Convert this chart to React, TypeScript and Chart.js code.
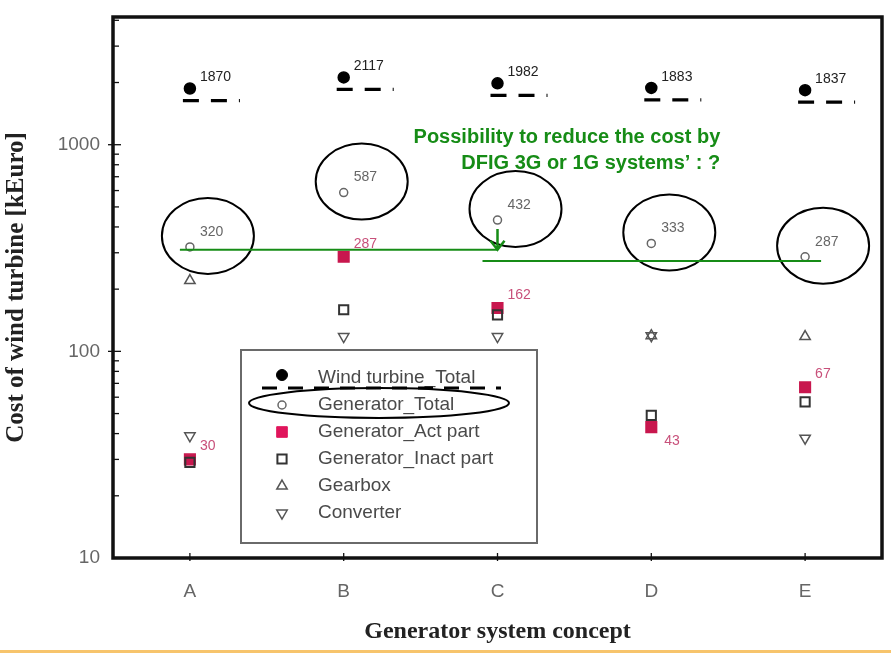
import React, { useEffect, useRef } from "react";
import { Chart, registerables } from "chart.js";

Chart.register(...registerables);

// ---- data ----
const categories = ["A", "B", "C", "D", "E"];
const seriesLabels = [
  "Wind turbine_Total",
  "Generator_Total",
  "Generator_Act part",
  "Generator_Inact part",
  "Gearbox",
  "Converter",
];
const windTurbineTotal = [1870, 2117, 1982, 1883, 1837];
const generatorTotal = [320, 587, 432, 333, 287];
const generatorActPart = [30, 287, 162, 43, 67];
const generatorInactPart = [29, 159, 150, 49, 57];
const gearbox = [220, null, null, 119, 118];
const converter = [39, 118, 118, 119, 38];
const yTickValues = [10, 100, 1000];
const yMin = 10;
const yMax = 4150;
// annotation: reduction reference levels (kEuro)
const refLevelFirst = 310;
const refLevelSecond = 274;
const arrowStartValue = 391;
const noteLines = ["Possibility to reduce the cost by", "DFIG 3G or 1G systems\u2019 : ?"];

const GREEN = "#168c16";
const ACT_RED = "#c8174e";

function drawMarker(ctx, style, x, y, r, fill, stroke, lw, rot = 0) {
  ctx.save();
  ctx.translate(x, y);
  ctx.rotate((rot * Math.PI) / 180);
  ctx.beginPath();
  if (style === "circle") {
    ctx.arc(0, 0, r, 0, Math.PI * 2);
  } else if (style === "rect") {
    const s = Math.SQRT1_2 * r;
    ctx.rect(-s, -s, 2 * s, 2 * s);
  } else if (style === "triangle") {
    ctx.moveTo(0, -r);
    ctx.lineTo(r * 0.866, r * 0.5);
    ctx.lineTo(-r * 0.866, r * 0.5);
    ctx.closePath();
  }
  if (fill) {
    ctx.fillStyle = fill;
    ctx.fill();
  }
  ctx.lineWidth = lw;
  ctx.strokeStyle = stroke;
  ctx.stroke();
  ctx.restore();
}

const overlayPlugin = {
  id: "overlay",
  beforeDraw(chart) {
    const { ctx, width, height } = chart;
    ctx.save();
    ctx.fillStyle = "#ffffff";
    ctx.fillRect(0, 0, width, height);
    ctx.fillStyle = "#f7c46c";
    ctx.fillRect(0, height - 3, width, 3);
    ctx.restore();
  },
  afterDatasetsDraw(chart) {
    const { ctx, chartArea: ca } = chart;
    const x = chart.scales.x;
    const y = chart.scales.y;
    ctx.save();

    // frame
    ctx.strokeStyle = "#111";
    ctx.lineWidth = 3.5;
    ctx.strokeRect(ca.left, ca.top, ca.right - ca.left, ca.bottom - ca.top);

    // y ticks (major + minor, log)
    ctx.lineWidth = 1.3;
    for (const dec of [10, 100, 1000]) {
      for (let m = 1; m <= 9; m++) {
        const v = dec * m;
        if (v > yMax || v <= yMin) continue;
        const py = y.getPixelForValue(v);
        ctx.beginPath();
        if (m === 1) {
          ctx.moveTo(ca.left - 5, py);
          ctx.lineTo(ca.left + 8, py);
        } else {
          ctx.moveTo(ca.left, py);
          ctx.lineTo(ca.left + 6, py);
        }
        ctx.stroke();
      }
    }
    // x ticks
    categories.forEach((_, i) => {
      const px = x.getPixelForValue(i);
      ctx.beginPath();
      ctx.moveTo(px, ca.bottom + 3);
      ctx.lineTo(px, ca.bottom - 5);
      ctx.stroke();
    });

    const wtMeta = chart.getDatasetMeta(0);
    const gtMeta = chart.getDatasetMeta(1);
    const actMeta = chart.getDatasetMeta(2);

    // dashed markers under wind turbine totals
    ctx.strokeStyle = "#000";
    ctx.lineWidth = 3.3;
    ctx.setLineDash([16, 12]);
    wtMeta.data.forEach((pt) => {
      ctx.beginPath();
      ctx.moveTo(pt.x - 7, pt.y + 12);
      ctx.lineTo(pt.x + 50, pt.y + 12);
      ctx.stroke();
    });
    ctx.setLineDash([]);

    // ellipses around generator totals
    ctx.lineWidth = 2;
    gtMeta.data.forEach((pt) => {
      ctx.beginPath();
      ctx.ellipse(pt.x + 18, pt.y - 11, 46, 38, 0, 0, Math.PI * 2);
      ctx.stroke();
    });

    // value labels
    ctx.font = "14px 'Liberation Sans', Arial, sans-serif";
    ctx.textAlign = "left";
    ctx.textBaseline = "middle";
    ctx.fillStyle = "#222";
    wtMeta.data.forEach((pt, i) => {
      ctx.fillText(String(windTurbineTotal[i]), pt.x + 10, pt.y - 11);
    });
    ctx.fillStyle = "#666";
    gtMeta.data.forEach((pt, i) => {
      ctx.fillText(String(generatorTotal[i]), pt.x + 10, pt.y - 15);
    });
    ctx.fillStyle = "#c8507a";
    actMeta.data.forEach((pt, i) => {
      const below = generatorActPart[i] < generatorInactPart[i];
      if (below) ctx.fillText(String(generatorActPart[i]), pt.x + 13, pt.y + 14);
      else ctx.fillText(String(generatorActPart[i]), pt.x + 10, pt.y - 13);
    });

    // green annotation
    ctx.strokeStyle = GREEN;
    ctx.fillStyle = GREEN;
    ctx.lineWidth = 2;
    const y1 = y.getPixelForValue(refLevelFirst);
    const y2 = y.getPixelForValue(refLevelSecond);
    const xA = x.getPixelForValue(0);
    const xC = x.getPixelForValue(2);
    const xE = x.getPixelForValue(4);
    ctx.beginPath();
    ctx.moveTo(xA - 10, y1);
    ctx.lineTo(xC, y1);
    ctx.stroke();
    ctx.beginPath();
    ctx.moveTo(xC - 15, y2);
    ctx.lineTo(xE + 16, y2);
    ctx.stroke();
    const ya = y.getPixelForValue(arrowStartValue);
    ctx.lineWidth = 2.5;
    ctx.beginPath();
    ctx.moveTo(xC, ya);
    ctx.lineTo(xC, y1);
    ctx.moveTo(xC - 7, y1 - 9);
    ctx.lineTo(xC, y1);
    ctx.lineTo(xC + 7, y1 - 9);
    ctx.stroke();

    ctx.font = "bold 20px 'Liberation Sans', Arial, sans-serif";
    ctx.textAlign = "right";
    ctx.textBaseline = "middle";
    const noteRight = x.getPixelForValue(3) + 69;
    ctx.fillText(noteLines[0], noteRight, ca.top + 120);
    ctx.fillText(noteLines[1], noteRight, ca.top + 146);

    // legend
    const lx = ca.left + 128;
    const ly = ca.top + 333;
    const lw = 296;
    const lh = 193;
    ctx.fillStyle = "#fff";
    ctx.fillRect(lx, ly, lw, lh);
    ctx.strokeStyle = "#6a6a6a";
    ctx.lineWidth = 2;
    ctx.strokeRect(lx, ly, lw, lh);
    const mx = lx + 41;
    const tx = lx + 77;
    const rowY = (k) => ly + 28 + k * 27;
    const markerDefs = [
      ["circle", 5.5, "#000", "#000", 1, 0],
      ["circle", 4, null, "#666", 1.5, 0],
      ["rect", 7.5, "#e0155c", "#e0155c", 1, 0],
      ["rect", 6.5, null, "#333", 2, 0],
      ["triangle", 6, null, "#555", 1.5, 0],
      ["triangle", 6, null, "#555", 1.5, 180],
    ];
    ctx.font = "19px 'Liberation Sans', Arial, sans-serif";
    ctx.textAlign = "left";
    ctx.textBaseline = "middle";
    seriesLabels.forEach((lab, k) => {
      const d = markerDefs[k];
      drawMarker(ctx, d[0], mx, rowY(k) - (k === 0 ? 3 : 0), d[1], d[2], d[3], d[4], d[5]);
      ctx.fillStyle = "#4a4a4a";
      ctx.fillText(lab, tx, rowY(k));
    });
    // legend decorations
    ctx.strokeStyle = "#000";
    ctx.lineWidth = 3;
    ctx.setLineDash([15, 11]);
    ctx.beginPath();
    ctx.moveTo(lx + 21, rowY(0) + 10);
    ctx.lineTo(lx + 260, rowY(0) + 10);
    ctx.stroke();
    ctx.setLineDash([]);
    ctx.lineWidth = 2;
    ctx.beginPath();
    ctx.ellipse(lx + 138, rowY(1) - 2, 130, 15, 0, 0, Math.PI * 2);
    ctx.stroke();

    ctx.restore();
  },
};

export default function App() {
  const canvasRef = useRef(null);

  useEffect(() => {
    document.body.style.margin = "0";
    const canvas = canvasRef.current;
    if (!canvas) return;
    const pt = (over) =>
      Object.assign(
        { showLine: false, pointBorderWidth: 1.5, pointHoverRadius: 0 },
        over
      );
    const chart = new Chart(canvas, {
      type: "line",
      data: {
        labels: categories,
        datasets: [
          pt({
            label: seriesLabels[0],
            data: windTurbineTotal,
            pointStyle: "circle",
            pointRadius: 5.5,
            pointBackgroundColor: "#000",
            pointBorderColor: "#000",
            borderColor: "#000",
            order: 1,
          }),
          pt({
            label: seriesLabels[1],
            data: generatorTotal,
            pointStyle: "circle",
            pointRadius: 4,
            pointBackgroundColor: "rgba(255,255,255,0)",
            pointBorderColor: "#666",
            borderColor: "#666",
            order: 1,
          }),
          pt({
            label: seriesLabels[2],
            data: generatorActPart,
            pointStyle: "rect",
            pointRadius: 7.5,
            pointBackgroundColor: ACT_RED,
            pointBorderColor: ACT_RED,
            borderColor: ACT_RED,
            order: 2,
          }),
          pt({
            label: seriesLabels[3],
            data: generatorInactPart,
            pointStyle: "rect",
            pointRadius: 6.5,
            pointBorderWidth: 2,
            pointBackgroundColor: "rgba(255,255,255,0)",
            pointBorderColor: "#333",
            borderColor: "#333",
            order: 0,
          }),
          pt({
            label: seriesLabels[4],
            data: gearbox,
            pointStyle: "triangle",
            pointRadius: 6,
            pointBackgroundColor: "rgba(255,255,255,0)",
            pointBorderColor: "#555",
            borderColor: "#555",
            order: 1,
          }),
          pt({
            label: seriesLabels[5],
            data: converter,
            pointStyle: "triangle",
            pointRotation: 180,
            pointRadius: 6,
            pointBackgroundColor: "rgba(255,255,255,0)",
            pointBorderColor: "#555",
            borderColor: "#555",
            order: 1,
          }),
        ],
      },
      options: {
        animation: false,
        responsive: false,
        devicePixelRatio: 1,
        events: [],
        layout: { padding: { top: 17, right: 6, left: 0, bottom: 0 } },
        plugins: {
          legend: { display: false },
          tooltip: { enabled: false },
        },
        scales: {
          x: {
            type: "category",
            offset: true,
            grid: { display: false, drawTicks: false },
            border: { display: false },
            ticks: {
              color: "#666",
              padding: 22,
              font: { family: "'Liberation Sans', Arial, sans-serif", size: 19 },
            },
            title: {
              display: true,
              text: "Generator system concept",
              color: "#222",
              padding: { top: 0, bottom: 7 },
              font: { family: "'Liberation Serif', 'Times New Roman', serif", size: 24, weight: "bold" },
            },
            afterFit: (s) => {
              s.height = 95;
              s.paddingLeft = 0;
              s.paddingRight = 0;
            },
          },
          y: {
            type: "logarithmic",
            min: yMin,
            max: yMax,
            grid: { display: false, drawTicks: false },
            border: { display: false },
            afterBuildTicks: (s) => {
              s.ticks = yTickValues.map((v) => ({ value: v }));
            },
            ticks: {
              color: "#666",
              padding: 13,
              font: { family: "'Liberation Sans', Arial, sans-serif", size: 19 },
              callback: (v) => String(v),
            },
            title: {
              display: true,
              text: "Cost of wind turbine [kEuro]",
              color: "#222",
              padding: { top: 2, bottom: 0 },
              font: { family: "'Liberation Serif', 'Times New Roman', serif", size: 25, weight: "bold" },
            },
            afterFit: (s) => {
              s.width = 113;
              s.paddingTop = 0;
              s.paddingBottom = 0;
            },
          },
        },
      },
      plugins: [overlayPlugin],
    });
    return () => chart.destroy();
  }, []);

  return (
    <div style={{ width: 891, height: 653 }}>
      <canvas ref={canvasRef} width={891} height={653} style={{ display: "block" }} />
    </div>
  );
}
